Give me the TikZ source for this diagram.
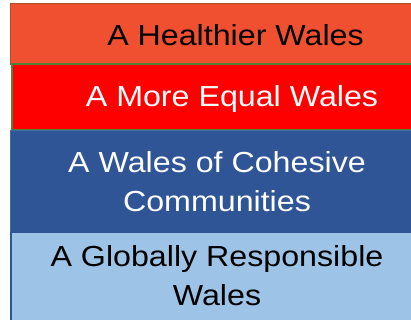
\documentclass[tikz,border=0pt]{standalone}
\usepackage{fontspec}
\setmainfont{Liberation Sans}[FakeStretch=1.11]
\definecolor{orangered}{HTML}{F0502F}
\definecolor{brownb}{HTML}{A9522A}
\definecolor{greenb}{HTML}{548235}
\definecolor{blueb}{HTML}{2F5597}
\definecolor{blueline}{HTML}{41719C}
\definecolor{lightb}{HTML}{9DC3E6}
\tikzset{
  band/.style={rectangle, inner sep=0pt, outer sep=0pt, anchor=north west},
  lbl/.style={inner sep=0pt, font=\fontsize{29}{39}\selectfont, align=center}
}
\begin{document}
\begin{tikzpicture}[x=1pt,y=-1pt]
\useasboundingbox (0,0) rectangle (411,320);
\fill[white] (0,0) rectangle (411,320);
\node[band, fill=orangered, draw=brownb, line width=1.2pt, minimum width=470pt, minimum height=61pt] (b1) at (10.5,3.5) {};
\node[band, fill=red, draw=greenb, line width=2pt, minimum width=470pt, minimum height=66pt] (b2) at (12,64.5) {};
\node[band, fill=blueb, draw=blueline, line width=0.8pt, minimum width=470pt, minimum height=102pt] (b3) at (10.5,130.5) {};
\node[band, fill=lightb, draw=blueb, line width=1.6pt, minimum width=470pt, minimum height=100pt] (b4) at (11,232.5) {};
\node[lbl, anchor=base, text=black] (t1) at (235.5,45.5) {A Healthier Wales};
\node[lbl, anchor=base, text=white] (t2) at (232,107) {A More Equal Wales};
\node[lbl, text=white] (t3) at (217,182) {A Wales of Cohesive\\Communities};
\node[lbl, text=black] (t4) at (217,275.5) {A Globally Responsible\\Wales};
\end{tikzpicture}
\end{document}
